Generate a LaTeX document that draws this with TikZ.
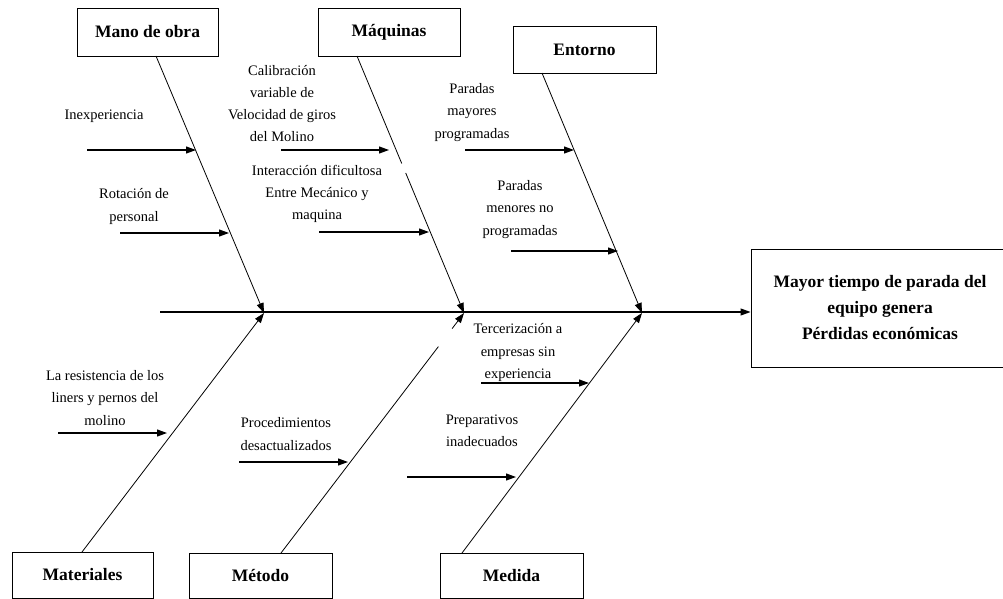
\documentclass[tikz,border=0pt]{standalone}
\usepackage{fontspec}
\setmainfont{Liberation Serif}
\usetikzlibrary{arrows.meta,calc}
\begin{document}
\begin{tikzpicture}[x=1pt,y=-1pt,
  catbox/.style={draw,line width=0.9pt,inner sep=0pt,font=\fontsize{17.5}{20}\selectfont\bfseries},
  lbl/.style={inner sep=0pt,align=center,font=\fontsize{14.5}{22.3}\selectfont},
  bone/.style={line width=0.8pt},
  arr/.style={line width=1.1pt,-{Triangle[length=10pt,width=7pt]}},
  bonearr/.style={line width=0.8pt,-{Triangle[length=10pt,width=7pt]}}]
\useasboundingbox (0,0) rectangle (1003,599);
% category boxes
\node[catbox,minimum width=141pt,minimum height=48pt] (mano) at (147.5,32) {Mano de obra};
\node[catbox,minimum width=142pt,minimum height=48pt] (maq) at (389,32) {Máquinas};
\node[catbox,minimum width=143pt,minimum height=47pt] (ent) at (584.5,49.5) {Entorno};
\node[catbox,minimum width=141pt,minimum height=46pt] (mat) at (82.5,575) {Materiales};
\node[catbox,minimum width=143pt,minimum height=45pt] (met) at (260.5,575.5) {Método};
\node[catbox,minimum width=143pt,minimum height=45pt] (med) at (511.5,575.5) {Medida};
% effect
\node[draw,line width=0.9pt,minimum width=258pt,minimum height=118pt,inner sep=0pt,align=center,
      font=\fontsize{17.5}{26}\selectfont\bfseries] (eff) at (880,308)
  {Mayor tiempo de parada del\\equipo genera\\Pérdidas económicas};
% spine
\coordinate (sp0) at (160,312);
\draw[arr] (sp0) -- (sp0 -| eff.west);
% bone tips
\coordinate (tMano) at (264,313);
\coordinate (tMaq) at (464,313);
\coordinate (tEnt) at (642,313);
\coordinate (bMano) at (156,56);
\coordinate (bMaq) at (357,56);
\coordinate (bEnt) at (542,73);
\coordinate (bMat) at (82,552);
\coordinate (bMet) at (281,553);
\coordinate (bMed) at (462,553);
\draw[bonearr] (bMano) -- (tMano);
\draw[bone] (bMaq) -- ($(bMaq)!0.418!(tMaq)$);
\draw[bonearr] ($(bMaq)!0.455!(tMaq)$) -- (tMaq);
\draw[bonearr] (bEnt) -- (tEnt);
\draw[bonearr] (bMat) -- (tMano);
\draw[bone] (bMet) -- ($(bMet)!0.86!(tMaq)$);
\draw[bonearr] ($(bMet)!0.935!(tMaq)$) -- (tMaq);
\draw[bonearr] (bMed) -- (tEnt);
% causes: Mano de obra
\node[lbl] (c1) at (104,116) {Inexperiencia};
\coordinate (c1a) at (87,150); \coordinate (c1b) at (196,150);
\draw[arr] (c1a) -- (c1b);
\node[lbl] (c2) at (134,206.5) {Rotación de\\personal};
\coordinate (c2a) at (120,233); \coordinate (c2b) at (229,233);
\draw[arr] (c2a) -- (c2b);
% causes: Maquinas
\node[lbl] (c3) at (282,103.5) {Calibración\\variable de\\Velocidad de giros\\del Molino};
\coordinate (c3a) at (281,150); \coordinate (c3b) at (389,150);
\draw[arr] (c3a) -- (c3b);
\node[lbl] (c4) at (317,194) {Interacción dificultosa\\Entre Mecánico y\\maquina};
\coordinate (c4a) at (319,232); \coordinate (c4b) at (429,232);
\draw[arr] (c4a) -- (c4b);
% causes: Entorno
\node[lbl] (c5) at (472,112.5) {Paradas\\mayores\\programadas};
\coordinate (c5a) at (465,150); \coordinate (c5b) at (574,150);
\draw[arr] (c5a) -- (c5b);
\node[lbl] (c6) at (520,209.5) {Paradas\\menores no\\programadas};
\coordinate (c6a) at (511,251); \coordinate (c6b) at (618,251);
\draw[arr] (c6a) -- (c6b);
% causes: Materiales
\node[lbl] (c7) at (105,398) {La resistencia de los\\liners y pernos del\\molino};
\coordinate (c7a) at (58,433); \coordinate (c7b) at (167,433);
\draw[arr] (c7a) -- (c7b);
% causes: Metodo
\node[lbl] (c8) at (286,434) {Procedimientos\\desactualizados};
\coordinate (c8a) at (239,462); \coordinate (c8b) at (348,462);
\draw[arr] (c8a) -- (c8b);
% causes: Medida
\node[lbl] (c9) at (518,352.5) {Tercerización a\\empresas sin\\experiencia};
\coordinate (c9a) at (481,383); \coordinate (c9b) at (589,383);
\draw[arr] (c9a) -- (c9b);
\node[lbl] (c10) at (482,430.5) {Preparativos\\inadecuados};
\coordinate (c10a) at (407,477); \coordinate (c10b) at (516,477);
\draw[arr] (c10a) -- (c10b);
\end{tikzpicture}
\end{document}
